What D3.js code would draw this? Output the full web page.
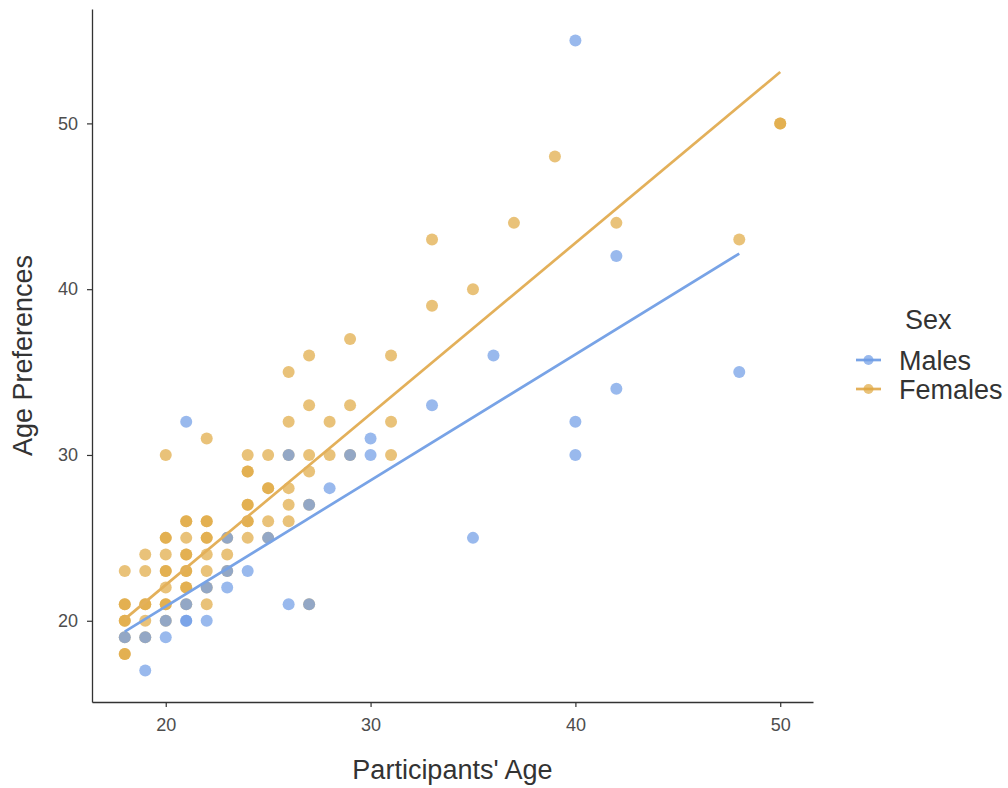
<!DOCTYPE html>
<html>
<head>
<meta charset="utf-8">
<script src="https://cdn.jsdelivr.net/npm/d3@7/dist/d3.min.js"></script>
<style>
  body { margin: 0; background: #fff; }
  text { font-family: "Liberation Sans", Arial, sans-serif; }
</style>
</head>
<body>
<svg id="chart" width="1008" height="788"></svg>
<script>
// [age, preferred age] (some dots are stacked twice)
const males = [
  [18,19],[19,19],[19,17],[20,20],[20,19],[21,32],[21,21],[21,20],[21,20],
  [22,22],[22,20],[23,25],[23,23],[23,22],[24,23],[25,25],[26,30],[26,21],
  [27,27],[27,21],[28,28],[29,30],[30,31],[30,30],[33,33],[35,25],[36,36],
  [40,55],[40,32],[40,30],[42,42],[42,34],[48,35]
];
const females = [
  [18,23],[18,21],[18,21],[18,20],[18,20],[18,19],[18,18],[18,18],
  [19,24],[19,23],[19,21],[19,21],[19,20],[19,19],
  [20,30],[20,25],[20,25],[20,24],[20,23],[20,23],[20,22],[20,21],[20,21],[20,20],
  [21,26],[21,26],[21,25],[21,24],[21,24],[21,23],[21,23],[21,22],[21,22],[21,21],
  [22,31],[22,26],[22,26],[22,25],[22,25],[22,24],[22,23],[22,22],[22,21],
  [23,25],[23,24],[23,23],
  [24,30],[24,29],[24,29],[24,27],[24,27],[24,26],[24,26],[24,25],
  [25,30],[25,28],[25,28],[25,26],[25,25],
  [26,35],[26,32],[26,30],[26,28],[26,27],[26,26],
  [27,36],[27,33],[27,30],[27,29],[27,27],[27,21],
  [28,32],[28,30],[29,37],[29,33],[29,30],[31,36],[31,32],[31,30],
  [33,43],[33,39],[35,40],[37,44],[39,48],[42,44],[48,43],[50,50],[50,50]
];
// linear fits, read at the ends of each line
const maleFit = [[18,19.35],[48,42.15]];
const femaleFit = [[18,20.1],[50,53.1]];

const xTicks = [20,30,40,50];
const yTicks = [20,30,40,50];
const seriesNames = ['Males','Females'];
const seriesColors = ['#6E9BE6','#E0A840'];
const lineColors = ['#78A3E6','#E3B05A'];

const svg = d3.select('#chart');
const plotLeft = 92, plotRight = 813, plotTop = 9, plotBottom = 702;

const x = d3.scaleLinear().domain([16.4, 51.6]).range([plotLeft, plotRight]);
const y = d3.scaleLinear().domain([15.1, 56.9]).range([plotBottom, plotTop]);

// points: females first, males on top
const layers = [
  { data: females, color: seriesColors[1] },
  { data: males, color: seriesColors[0] }
];
layers.forEach(layer => {
  svg.append('g')
    .selectAll('circle')
    .data(layer.data)
    .enter().append('circle')
    .attr('cx', d => x(d[0]))
    .attr('cy', d => y(d[1]))
    .attr('r', 6)
    .attr('fill', layer.color)
    .attr('fill-opacity', 0.7);
});

// fit lines
const line = d3.line().x(d => x(d[0])).y(d => y(d[1]));
[[maleFit, lineColors[0]], [femaleFit, lineColors[1]]].forEach(([fit, col]) => {
  svg.append('path')
    .attr('d', line(fit))
    .attr('fill', 'none')
    .attr('stroke', col)
    .attr('stroke-width', 2.7);
});

// axes
const xAxis = svg.append('g')
  .attr('transform', `translate(0,${plotBottom})`)
  .call(d3.axisBottom(x).tickValues(xTicks).tickSize(5).tickSizeOuter(0).tickPadding(11));
const yAxis = svg.append('g')
  .attr('transform', `translate(${plotLeft},0)`)
  .call(d3.axisLeft(y).tickValues(yTicks).tickSize(5).tickSizeOuter(0).tickPadding(9));

[xAxis, yAxis].forEach(ax => {
  ax.select('.domain').attr('stroke', '#333').attr('stroke-width', 1.3);
  ax.selectAll('.tick line').attr('stroke', '#333').attr('stroke-width', 1.2);
  ax.selectAll('.tick text')
    .attr('fill', '#4D4D4D')
    .style('font-size', '18px')
    .style('font-family', '"Liberation Sans", Arial, sans-serif');
});

// axis titles
svg.append('text')
  .attr('x', (plotLeft + plotRight) / 2)
  .attr('y', 779)
  .attr('text-anchor', 'middle')
  .attr('fill', '#333')
  .style('font-size', '27px')
  .text("Participants' Age");

svg.append('text')
  .attr('transform', `translate(32,${(plotTop + plotBottom) / 2}) rotate(-90)`)
  .attr('text-anchor', 'middle')
  .attr('fill', '#333')
  .style('font-size', '27px')
  .text('Age Preferences');

// legend
const legend = svg.append('g');
legend.append('text')
  .attr('x', 905)
  .attr('y', 329)
  .attr('fill', '#333')
  .style('font-size', '27px')
  .text('Sex');

seriesNames.forEach((name, i) => {
  const cy = 360 + i * 29;
  legend.append('line')
    .attr('x1', 856).attr('x2', 881)
    .attr('y1', cy).attr('y2', cy)
    .attr('stroke', lineColors[i])
    .attr('stroke-width', 2.7);
  legend.append('circle')
    .attr('cx', 868.5).attr('cy', cy)
    .attr('r', 5)
    .attr('fill', seriesColors[i])
    .attr('fill-opacity', 0.7);
  legend.append('text')
    .attr('x', 899)
    .attr('y', cy + 10)
    .attr('fill', '#333')
    .style('font-size', '27px')
    .text(name);
});
</script>
</body>
</html>
